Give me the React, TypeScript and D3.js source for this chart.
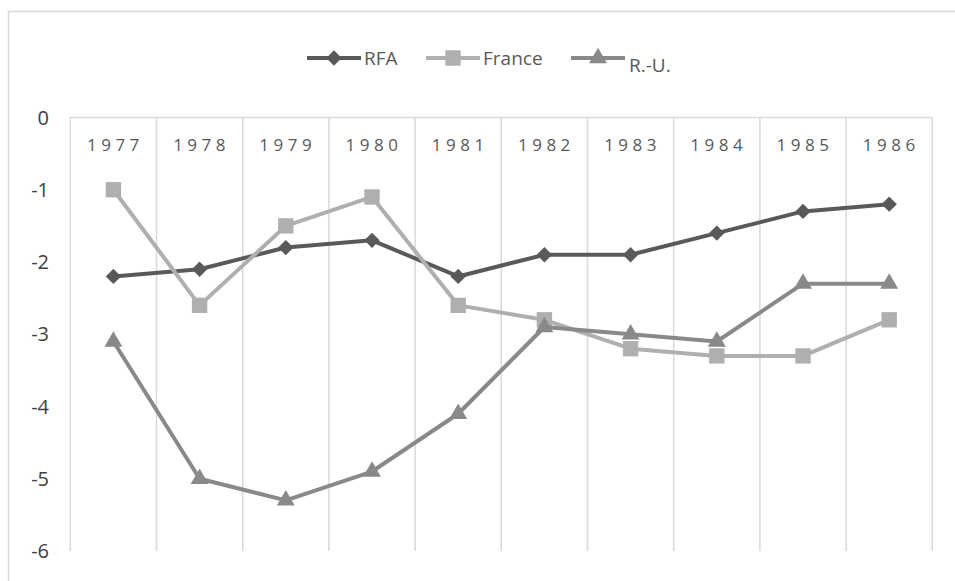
import { useRef, useEffect } from 'react';
import * as d3 from 'd3';

const years = ['1977', '1978', '1979', '1980', '1981', '1982', '1983', '1984', '1985', '1986'];
const rfa = [-2.2, -2.1, -1.8, -1.7, -2.2, -1.9, -1.9, -1.6, -1.3, -1.2];
const france = [-1.0, -2.6, -1.5, -1.1, -2.6, -2.8, -3.2, -3.3, -3.3, -2.8];
const ru = [-3.1, -5.0, -5.3, -4.9, -4.1, -2.9, -3.0, -3.1, -2.3, -2.3];
const yTicks = [0, -1, -2, -3, -4, -5, -6];

const series = [
  { name: 'RFA', values: rfa, color: '#595959', symbol: d3.symbolDiamond2, size: 150 },
  { name: 'France', values: france, color: '#afafaf', symbol: d3.symbolSquare2, size: 300 },
  { name: 'R.-U.', values: ru, color: '#898989', symbol: d3.symbolTriangle2, size: 230 },
];

const W = 955;
const H = 581;

const App = () => {
  const ref = useRef<SVGSVGElement>(null);

  useEffect(() => {
    const svg = d3.select(ref.current);
    svg.selectAll('*').remove();

    const left = 70.3, right = 932.3, top = 117.5, bottom = 551;

    // chart frame (cropped on the right and bottom)
    svg.append('rect')
      .attr('x', 8.5).attr('y', 11.5)
      .attr('width', W).attr('height', H)
      .attr('fill', 'white')
      .attr('stroke', '#d9d9d9').attr('stroke-width', 1.5);

    const x = d3.scaleBand().domain(years).range([left, right]).padding(0);
    const y = d3.scaleLinear().domain([0, -6]).range([top, bottom]);

    // vertical gridlines on category boundaries
    const bounds = years.map(d => x(d)!).concat([right]);
    svg.append('g').selectAll('line').data(bounds).enter().append('line')
      .attr('x1', d => d).attr('x2', d => d)
      .attr('y1', top).attr('y2', bottom)
      .attr('stroke', '#d9d9d9').attr('stroke-width', 1.5);

    // category axis at y = 0
    svg.append('line')
      .attr('x1', left).attr('x2', right)
      .attr('y1', y(0)).attr('y2', y(0))
      .attr('stroke', '#d9d9d9').attr('stroke-width', 1.5);

    svg.append('g').selectAll('text').data(years).enter().append('text')
      .attr('x', d => x(d)! + x.bandwidth() / 2 + 2)
      .attr('y', top + 33)
      .attr('text-anchor', 'middle')
      .attr('font-family', 'Open Sans, sans-serif')
      .attr('font-size', 17)
      .attr('letter-spacing', 4.5)
      .attr('fill', '#595959')
      .text(d => d);

    // value axis labels
    svg.append('g').selectAll('text').data(yTicks).enter().append('text')
      .attr('x', 49)
      .attr('y', d => y(d) + 7)
      .attr('text-anchor', 'end')
      .attr('font-family', 'Open Sans, sans-serif')
      .attr('font-size', 20)
      .attr('fill', '#404040')
      .text(d => d);

    const cx = (i: number) => x(years[i])! + x.bandwidth() / 2;

    series.forEach(s => {
      const line = d3.line<number>().x((_, i) => cx(i)).y(d => y(d));
      svg.append('path')
        .attr('d', line(s.values))
        .attr('fill', 'none')
        .attr('stroke', s.color)
        .attr('stroke-width', 4)
        .attr('stroke-linejoin', 'round');
      svg.append('g').selectAll('path').data(s.values).enter().append('path')
        .attr('d', d3.symbol().type(s.symbol).size(s.size)()!)
        .attr('transform', (d, i) => `translate(${cx(i)},${y(d)})`)
        .attr('fill', s.color);
    });

    // legend
    const legend = [
      { x0: 307, tx: 364, ty: 65 },
      { x0: 426, tx: 483, ty: 65 },
      { x0: 571, tx: 629, ty: 72 },
    ];
    series.forEach((s, i) => {
      const l = legend[i];
      const g = svg.append('g');
      g.append('line')
        .attr('x1', l.x0).attr('x2', l.x0 + 54)
        .attr('y1', 58).attr('y2', 58)
        .attr('stroke', s.color).attr('stroke-width', 4);
      g.append('path')
        .attr('d', d3.symbol().type(s.symbol).size(s.size)()!)
        .attr('transform', `translate(${l.x0 + 27},58)`)
        .attr('fill', s.color);
      g.append('text')
        .attr('x', l.tx).attr('y', l.ty)
        .attr('font-family', 'Open Sans, sans-serif')
        .attr('font-size', 19)
        .attr('fill', '#595959')
        .text(s.name);
    });
  }, []);

  return (
    <svg ref={ref} width={W} height={H} style={{ position: 'absolute', left: 0, top: 0 }}></svg>
  );
};

export default App;
